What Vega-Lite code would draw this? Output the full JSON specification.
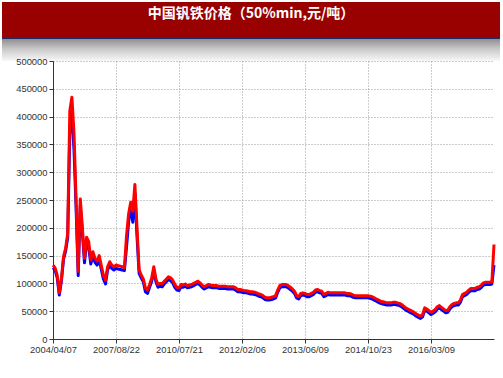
{
  "$schema": "https://vega.github.io/schema/vega-lite/v6.json",
  "padding": {"left": 2, "top": 2, "right": 0, "bottom": 0},
  "background": "white",
  "config": {"view": {"stroke": null}, "font": "Liberation Sans"},
  "datasets": {
    "price": [
      {"d":"2004/04/07","lo":128000,"hi":133000},
      {"d":"2004/05/18","lo":124000,"hi":128000},
      {"d":"2004/06/28","lo":110000,"hi":115000},
      {"d":"2004/08/08","lo":79000,"hi":83000},
      {"d":"2004/09/18","lo":104000,"hi":108000},
      {"d":"2004/10/29","lo":143000,"hi":148000},
      {"d":"2004/12/09","lo":158000,"hi":163000},
      {"d":"2005/01/19","lo":182000,"hi":190000},
      {"d":"2005/03/01","lo":370000,"hi":410000},
      {"d":"2005/04/11","lo":405000,"hi":435000},
      {"d":"2005/05/22","lo":340000,"hi":370000},
      {"d":"2005/07/02","lo":235000,"hi":250000},
      {"d":"2005/08/12","lo":114000,"hi":122000},
      {"d":"2005/09/22","lo":240000,"hi":252000},
      {"d":"2005/11/02","lo":190000,"hi":200000},
      {"d":"2005/12/13","lo":137000,"hi":145000},
      {"d":"2006/01/23","lo":175000,"hi":183000},
      {"d":"2006/03/05","lo":165000,"hi":175000},
      {"d":"2006/04/15","lo":135000,"hi":142000},
      {"d":"2006/05/26","lo":150000,"hi":157000},
      {"d":"2006/07/06","lo":138000,"hi":145000},
      {"d":"2006/08/16","lo":133000,"hi":140000},
      {"d":"2006/09/26","lo":143000,"hi":150000},
      {"d":"2006/11/06","lo":125000,"hi":132000},
      {"d":"2006/12/17","lo":108000,"hi":115000},
      {"d":"2007/01/27","lo":99000,"hi":106000},
      {"d":"2007/03/09","lo":124000,"hi":130000},
      {"d":"2007/04/19","lo":133000,"hi":139000},
      {"d":"2007/05/30","lo":127000,"hi":133000},
      {"d":"2007/07/10","lo":124000,"hi":130000},
      {"d":"2007/08/22","lo":127000,"hi":133000},
      {"d":"2007/09/26","lo":126000,"hi":132000},
      {"d":"2007/11/01","lo":125000,"hi":131000},
      {"d":"2007/12/06","lo":124000,"hi":130000},
      {"d":"2008/01/11","lo":123000,"hi":128000},
      {"d":"2008/02/15","lo":165000,"hi":185000},
      {"d":"2008/03/22","lo":210000,"hi":225000},
      {"d":"2008/04/26","lo":238000,"hi":246000},
      {"d":"2008/06/01","lo":210000,"hi":230000},
      {"d":"2008/07/06","lo":262000,"hi":278000},
      {"d":"2008/08/11","lo":185000,"hi":200000},
      {"d":"2008/09/15","lo":118000,"hi":125000},
      {"d":"2008/10/21","lo":110000,"hi":115000},
      {"d":"2008/11/25","lo":103000,"hi":108000},
      {"d":"2008/12/31","lo":85000,"hi":92000},
      {"d":"2009/02/04","lo":82000,"hi":88000},
      {"d":"2009/03/12","lo":93000,"hi":98000},
      {"d":"2009/04/16","lo":104000,"hi":110000},
      {"d":"2009/05/22","lo":124000,"hi":130000},
      {"d":"2009/06/26","lo":103000,"hi":108000},
      {"d":"2009/08/01","lo":93000,"hi":98000},
      {"d":"2009/09/05","lo":95000,"hi":100000},
      {"d":"2009/10/11","lo":94000,"hi":99000},
      {"d":"2009/11/15","lo":99000,"hi":104000},
      {"d":"2009/12/21","lo":103000,"hi":108000},
      {"d":"2010/01/25","lo":107000,"hi":112000},
      {"d":"2010/03/02","lo":105000,"hi":110000},
      {"d":"2010/04/06","lo":101000,"hi":106000},
      {"d":"2010/05/12","lo":93000,"hi":98000},
      {"d":"2010/06/16","lo":88000,"hi":93000},
      {"d":"2010/07/21","lo":87000,"hi":92000},
      {"d":"2010/08/09","lo":94000,"hi":98000},
      {"d":"2010/08/28","lo":93000,"hi":97000},
      {"d":"2010/09/16","lo":95000,"hi":99000},
      {"d":"2010/10/05","lo":92000,"hi":96000},
      {"d":"2010/10/24","lo":93000,"hi":97000},
      {"d":"2010/11/12","lo":94000,"hi":98000},
      {"d":"2010/12/01","lo":96000,"hi":100000},
      {"d":"2010/12/20","lo":98000,"hi":102000},
      {"d":"2011/01/08","lo":100000,"hi":104000},
      {"d":"2011/01/27","lo":97000,"hi":101000},
      {"d":"2011/02/15","lo":93000,"hi":97000},
      {"d":"2011/03/06","lo":90000,"hi":94000},
      {"d":"2011/03/25","lo":92000,"hi":96000},
      {"d":"2011/04/13","lo":94000,"hi":98000},
      {"d":"2011/05/02","lo":93000,"hi":97000},
      {"d":"2011/05/21","lo":92000,"hi":96000},
      {"d":"2011/06/09","lo":92000,"hi":96000},
      {"d":"2011/06/28","lo":92000,"hi":96000},
      {"d":"2011/07/17","lo":91000,"hi":95000},
      {"d":"2011/08/05","lo":91000,"hi":95000},
      {"d":"2011/08/24","lo":91000,"hi":95000},
      {"d":"2011/09/12","lo":91000,"hi":95000},
      {"d":"2011/10/01","lo":90000,"hi":94000},
      {"d":"2011/10/20","lo":90000,"hi":94000},
      {"d":"2011/11/08","lo":90000,"hi":94000},
      {"d":"2011/11/27","lo":90000,"hi":94000},
      {"d":"2011/12/16","lo":88000,"hi":92000},
      {"d":"2012/01/04","lo":85000,"hi":89000},
      {"d":"2012/01/20","lo":85000,"hi":89000},
      {"d":"2012/02/06","lo":84000,"hi":88000},
      {"d":"2012/02/22","lo":83000,"hi":87000},
      {"d":"2012/03/09","lo":83000,"hi":87000},
      {"d":"2012/03/26","lo":82000,"hi":86000},
      {"d":"2012/04/11","lo":81000,"hi":85000},
      {"d":"2012/04/27","lo":81000,"hi":85000},
      {"d":"2012/05/14","lo":80000,"hi":84000},
      {"d":"2012/05/30","lo":79000,"hi":83000},
      {"d":"2012/06/15","lo":77000,"hi":81000},
      {"d":"2012/07/02","lo":76000,"hi":80000},
      {"d":"2012/07/18","lo":74000,"hi":78000},
      {"d":"2012/08/03","lo":71000,"hi":75000},
      {"d":"2012/08/20","lo":70000,"hi":74000},
      {"d":"2012/09/05","lo":70000,"hi":74000},
      {"d":"2012/09/21","lo":71000,"hi":75000},
      {"d":"2012/10/08","lo":72000,"hi":76000},
      {"d":"2012/10/24","lo":74000,"hi":78000},
      {"d":"2012/11/09","lo":84000,"hi":88000},
      {"d":"2012/11/26","lo":92000,"hi":96000},
      {"d":"2012/12/12","lo":94000,"hi":98000},
      {"d":"2012/12/28","lo":94000,"hi":98000},
      {"d":"2013/01/14","lo":94000,"hi":98000},
      {"d":"2013/01/30","lo":92000,"hi":96000},
      {"d":"2013/02/15","lo":89000,"hi":93000},
      {"d":"2013/03/04","lo":86000,"hi":90000},
      {"d":"2013/03/20","lo":82000,"hi":86000},
      {"d":"2013/04/05","lo":74000,"hi":78000},
      {"d":"2013/04/22","lo":72000,"hi":76000},
      {"d":"2013/05/08","lo":78000,"hi":82000},
      {"d":"2013/05/24","lo":79000,"hi":83000},
      {"d":"2013/06/09","lo":78000,"hi":82000},
      {"d":"2013/06/26","lo":76000,"hi":80000},
      {"d":"2013/07/12","lo":76000,"hi":80000},
      {"d":"2013/07/29","lo":78000,"hi":82000},
      {"d":"2013/08/15","lo":80000,"hi":84000},
      {"d":"2013/08/31","lo":84000,"hi":88000},
      {"d":"2013/09/17","lo":85000,"hi":89000},
      {"d":"2013/10/04","lo":83000,"hi":87000},
      {"d":"2013/10/20","lo":82000,"hi":86000},
      {"d":"2013/11/06","lo":76000,"hi":80000},
      {"d":"2013/11/23","lo":78000,"hi":82000},
      {"d":"2013/12/09","lo":80000,"hi":84000},
      {"d":"2013/12/26","lo":79000,"hi":83000},
      {"d":"2014/01/12","lo":79000,"hi":83000},
      {"d":"2014/01/28","lo":79000,"hi":83000},
      {"d":"2014/02/14","lo":79000,"hi":83000},
      {"d":"2014/03/03","lo":79000,"hi":83000},
      {"d":"2014/03/19","lo":79000,"hi":83000},
      {"d":"2014/04/05","lo":79000,"hi":83000},
      {"d":"2014/04/22","lo":79000,"hi":83000},
      {"d":"2014/05/08","lo":78000,"hi":82000},
      {"d":"2014/05/25","lo":78000,"hi":82000},
      {"d":"2014/06/11","lo":77000,"hi":81000},
      {"d":"2014/06/27","lo":75000,"hi":79000},
      {"d":"2014/07/14","lo":74000,"hi":78000},
      {"d":"2014/07/31","lo":74000,"hi":78000},
      {"d":"2014/08/16","lo":74000,"hi":78000},
      {"d":"2014/09/02","lo":74000,"hi":78000},
      {"d":"2014/09/19","lo":74000,"hi":78000},
      {"d":"2014/10/06","lo":74000,"hi":78000},
      {"d":"2014/10/23","lo":74000,"hi":78000},
      {"d":"2014/11/09","lo":73000,"hi":77000},
      {"d":"2014/11/25","lo":72000,"hi":76000},
      {"d":"2014/12/12","lo":70000,"hi":74000},
      {"d":"2014/12/29","lo":68000,"hi":72000},
      {"d":"2015/01/15","lo":66000,"hi":70000},
      {"d":"2015/02/01","lo":64000,"hi":68000},
      {"d":"2015/02/17","lo":63000,"hi":67000},
      {"d":"2015/03/06","lo":62000,"hi":66000},
      {"d":"2015/03/23","lo":61000,"hi":65000},
      {"d":"2015/04/09","lo":61000,"hi":65000},
      {"d":"2015/04/26","lo":61000,"hi":65000},
      {"d":"2015/05/12","lo":62000,"hi":66000},
      {"d":"2015/05/29","lo":62000,"hi":66000},
      {"d":"2015/06/15","lo":61000,"hi":65000},
      {"d":"2015/07/02","lo":60000,"hi":64000},
      {"d":"2015/07/18","lo":58000,"hi":62000},
      {"d":"2015/08/04","lo":55000,"hi":59000},
      {"d":"2015/08/21","lo":52000,"hi":56000},
      {"d":"2015/09/07","lo":50000,"hi":54000},
      {"d":"2015/09/24","lo":48000,"hi":52000},
      {"d":"2015/10/10","lo":46000,"hi":50000},
      {"d":"2015/10/27","lo":44000,"hi":48000},
      {"d":"2015/11/13","lo":41000,"hi":45000},
      {"d":"2015/11/30","lo":39000,"hi":43000},
      {"d":"2015/12/16","lo":37000,"hi":41000},
      {"d":"2016/01/02","lo":40000,"hi":44000},
      {"d":"2016/01/19","lo":52000,"hi":56000},
      {"d":"2016/02/05","lo":50000,"hi":54000},
      {"d":"2016/02/22","lo":47000,"hi":51000},
      {"d":"2016/03/09","lo":44000,"hi":48000},
      {"d":"2016/03/26","lo":46000,"hi":50000},
      {"d":"2016/04/11","lo":49000,"hi":53000},
      {"d":"2016/04/28","lo":54000,"hi":58000},
      {"d":"2016/05/15","lo":56000,"hi":60000},
      {"d":"2016/06/01","lo":53000,"hi":57000},
      {"d":"2016/06/17","lo":50000,"hi":54000},
      {"d":"2016/07/04","lo":47000,"hi":51000},
      {"d":"2016/07/21","lo":48000,"hi":52000},
      {"d":"2016/08/07","lo":54000,"hi":58000},
      {"d":"2016/08/23","lo":58000,"hi":62000},
      {"d":"2016/09/09","lo":60000,"hi":64000},
      {"d":"2016/09/26","lo":61000,"hi":65000},
      {"d":"2016/10/13","lo":61000,"hi":65000},
      {"d":"2016/10/29","lo":66000,"hi":70000},
      {"d":"2016/11/15","lo":76000,"hi":80000},
      {"d":"2016/12/02","lo":78000,"hi":82000},
      {"d":"2016/12/19","lo":80000,"hi":84000},
      {"d":"2017/01/04","lo":84000,"hi":88000},
      {"d":"2017/01/21","lo":87000,"hi":91000},
      {"d":"2017/02/07","lo":87000,"hi":91000},
      {"d":"2017/02/24","lo":87000,"hi":91000},
      {"d":"2017/03/12","lo":89000,"hi":93000},
      {"d":"2017/03/29","lo":90000,"hi":94000},
      {"d":"2017/04/15","lo":93000,"hi":97000},
      {"d":"2017/05/02","lo":97000,"hi":101000},
      {"d":"2017/05/18","lo":98000,"hi":102000},
      {"d":"2017/06/04","lo":98000,"hi":102000},
      {"d":"2017/06/21","lo":98000,"hi":102000},
      {"d":"2017/07/08","lo":99000,"hi":103000},
      {"d":"2017/07/25","lo":133000,"hi":170000}
    ]
  },
  "spacing": 0,
  "bounds": "flush",
  "vconcat": [
    {
      "width": 498,
      "height": 59,
      "data": {"values": [{"title": "中国钒铁价格（50%min,元/吨）"}]},
      "layer": [
        {
          "mark": {
            "type": "rect",
            "strokeWidth": 0,
            "fill": {
              "gradient": "linear",
              "x1": 0, "y1": 0, "x2": 0, "y2": 1,
              "stops": [
                {"offset": 0, "color": "#990000"},
                {"offset": 0.593, "color": "#990000"},
                {"offset": 0.593, "color": "#1c2d6b"},
                {"offset": 0.627, "color": "#1c2d6b"},
                {"offset": 0.627, "color": "#8f8f8f"},
                {"offset": 0.8, "color": "#cacaca"},
                {"offset": 1, "color": "#f8f8f8"}
              ]
            }
          },
          "encoding": {}
        },
        {
          "mark": {"type": "text", "color": "white", "font": "Noto Sans CJK SC", "fontSize": 14, "fontWeight": "bold", "dy": -17.5},
          "encoding": {"text": {"field": "title"}}
        }
      ]
    },
    {
      "spacing": 0,
      "bounds": "flush",
      "hconcat": [
        {
          "width": 51,
          "height": 278,
          "data": {"values": [{}]},
          "mark": {"type": "rect", "opacity": 0},
          "encoding": {}
        },
        {
          "width": 441,
          "height": 278,
          "data": {"name": "price"},
          "encoding": {
            "x": {
              "field": "d", "type": "ordinal", "sort": null,
              "scale": {"type": "point", "padding": 0},
              "axis": {
                "values": ["2004/04/07","2007/08/22","2010/07/21","2012/02/06","2013/06/09","2014/10/23","2016/03/09"],
                "title": null, "labelAngle": 0, "labelFont": "Liberation Sans", "labelFontSize": 9.4, "labelColor": "#333",
                "labelPadding": 2, "tickSize": 4, "tickColor": "#333", "domainColor": "#333",
                "grid": true, "gridColor": "#999", "gridDash": [1, 2], "labelOverlap": false
              }
            }
          },
          "layer": [
            {
              "mark": {"type": "line", "color": "#0000ff", "strokeWidth": 3, "strokeJoin": "round"},
              "encoding": {
                "y": {
                  "field": "lo", "type": "quantitative",
                  "scale": {"domain": [0, 500000]},
                  "axis": {
                    "values": [0,50000,100000,150000,200000,250000,300000,350000,400000,450000,500000],
                    "format": "d", "title": null, "labelFont": "Liberation Sans", "labelFontSize": 9.4, "labelColor": "#333",
                    "labelPadding": 2, "tickSize": 4, "tickColor": "#333", "domainColor": "#333", "labelOverlap": false,
                    "grid": true, "gridColor": "#999", "gridDash": [1, 2]
                  }
                }
              }
            },
            {
              "mark": {"type": "line", "color": "#ff0000", "strokeWidth": 3, "strokeJoin": "round"},
              "encoding": {
                "y": {
                  "field": "hi", "type": "quantitative",
                  "axis": {
                    "values": [0,50000,100000,150000,200000,250000,300000,350000,400000,450000,500000],
                    "format": "d", "title": null, "labelFont": "Liberation Sans", "labelFontSize": 9.4, "labelColor": "#333",
                    "labelPadding": 2, "tickSize": 4, "tickColor": "#333", "domainColor": "#333", "labelOverlap": false,
                    "grid": true, "gridColor": "#999", "gridDash": [1, 2]
                  }
                }
              }
            }
          ]
        }
      ]
    }
  ]
}
